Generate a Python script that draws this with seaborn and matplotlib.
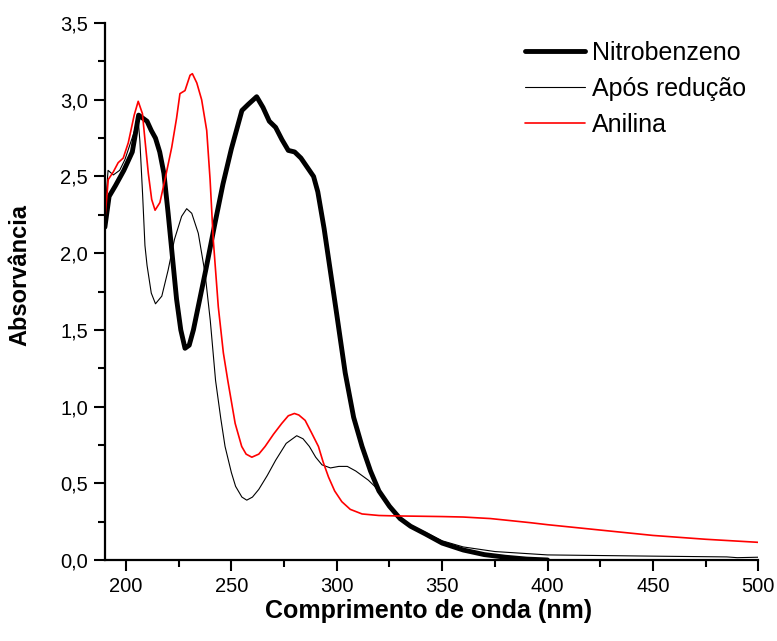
import numpy as np
import pandas as pd
import matplotlib
matplotlib.use("Agg")
import matplotlib.pyplot as plt
import seaborn as sns
from matplotlib.ticker import MultipleLocator, FuncFormatter

# ---- data ----
nitro_x = [190, 192, 195, 199, 203, 206, 208, 210, 212, 214, 216, 218, 220, 222, 224, 226, 228, 230, 232,
           235, 238, 242, 246, 250, 255, 258, 262, 265, 268, 271, 274, 277, 280, 283, 286, 289, 291, 294,
           297, 300, 304, 308, 312, 316, 320, 325, 330, 335, 342, 350, 360, 370, 380, 390, 400]
nitro_y = [2.17, 2.37, 2.44, 2.54, 2.66, 2.90, 2.88, 2.86, 2.80, 2.75, 2.66, 2.52, 2.26, 1.98, 1.70, 1.50,
           1.38, 1.40, 1.50, 1.70, 1.90, 2.18, 2.45, 2.68, 2.93, 2.97, 3.02, 2.95, 2.86, 2.82, 2.74, 2.67,
           2.66, 2.62, 2.56, 2.50, 2.40, 2.16, 1.88, 1.60, 1.22, 0.93, 0.74, 0.58, 0.45, 0.35, 0.27, 0.22,
           0.17, 0.11, 0.065, 0.035, 0.018, 0.006, 0.0]

apos_x = [190, 191.5, 194, 197, 199.5, 203.4, 205.8, 206.6, 207.9, 209, 210, 212, 214, 217, 220, 223, 226.4,
          228.8, 231.2, 234.3, 237.5, 240, 242.5, 245, 247, 250, 252, 255, 257.3, 260, 263, 267, 271, 276,
          281, 284, 287, 290, 293, 297, 301, 305, 309, 312, 315, 318, 321, 325, 330, 335, 342, 350, 360,
          375, 400, 450, 485, 490, 500]
apos_y = [2.26, 2.54, 2.51, 2.54, 2.61, 2.77, 2.87, 2.73, 2.38, 2.05, 1.92, 1.74, 1.67, 1.72, 1.89, 2.09,
          2.24, 2.29, 2.26, 2.13, 1.87, 1.56, 1.17, 0.92, 0.74, 0.57, 0.48, 0.41, 0.39, 0.41, 0.46, 0.55,
          0.65, 0.76, 0.81, 0.79, 0.74, 0.67, 0.62, 0.60, 0.61, 0.61, 0.58, 0.55, 0.52, 0.48, 0.42, 0.34,
          0.275, 0.225, 0.18, 0.125, 0.085, 0.055, 0.033, 0.025, 0.02, 0.015, 0.018]

anil_x = [190, 191.6, 194, 196.3, 198.7, 201.1, 203.9, 205.8, 207.8, 209, 210.6, 212.2, 213.8, 216.1,
          218.5, 221.7, 224, 225.6, 228, 230.4, 231.5, 233.6, 235.9, 238.3, 239.9, 241.4, 243.8, 246.2,
          248.3, 251.8, 254.9, 257, 259.7, 263, 266, 270, 273.9, 277, 279.9, 282, 285, 288, 291.3, 293.5,
          296.1, 299, 302.4, 306.4, 312, 320, 328.6, 340, 350, 360, 372.9, 380, 391.9, 400, 425, 450,
          475, 500]
anil_y = [2.22, 2.48, 2.53, 2.59, 2.62, 2.72, 2.90, 2.99, 2.91, 2.74, 2.52, 2.35, 2.28, 2.33, 2.48, 2.69,
          2.88, 3.04, 3.06, 3.16, 3.17, 3.11, 3.00, 2.80, 2.48, 2.09, 1.65, 1.35, 1.17, 0.89, 0.74, 0.69,
          0.67, 0.69, 0.74, 0.82, 0.89, 0.94, 0.955, 0.945, 0.91, 0.83, 0.74, 0.64, 0.54, 0.45, 0.38,
          0.33, 0.30, 0.29, 0.287, 0.285, 0.283, 0.28, 0.27, 0.26, 0.243, 0.23, 0.195, 0.16, 0.135, 0.115]

labels = ["Nitrobenzeno", "Após redução", "Anilina"]
x_label = "Comprimento de onda (nm)"
y_label = "Absorvância"

sns.set_theme(style="ticks")
plt.rcParams["font.family"] = ["Liberation Sans", "DejaVu Sans"]
plt.rcParams["text.color"] = "black"
plt.rcParams["axes.labelcolor"] = "black"
plt.rcParams["xtick.color"] = "black"
plt.rcParams["ytick.color"] = "black"

fig = plt.figure(figsize=(7.77, 6.41), dpi=100)
ax = fig.add_axes([0.135, 0.1264, 0.841, 0.8376])

series = [
    (nitro_x, nitro_y, labels[0], "black", 3.5),
    (apos_x, apos_y, labels[1], "black", 0.8),
    (anil_x, anil_y, labels[2], "#ff0000", 1.2),
]
for xs, ys, lab, col, lw in series:
    df = pd.DataFrame({"x": xs, "y": ys})
    sns.lineplot(data=df, x="x", y="y", ax=ax, color=col, linewidth=lw, label=lab,
                 sort=False, estimator=None)

ax.set_xlim(190, 500)
ax.set_ylim(0, 3.5)
ax.xaxis.set_major_locator(MultipleLocator(50))
ax.xaxis.set_minor_locator(MultipleLocator(25))
ax.yaxis.set_major_locator(MultipleLocator(0.5))
ax.yaxis.set_minor_locator(MultipleLocator(0.25))
ax.yaxis.set_major_formatter(FuncFormatter(lambda v, p: f"{v:.1f}".replace(".", ",")))
ax.xaxis.set_major_formatter(FuncFormatter(lambda v, p: f"{v:.0f}"))

for s in ["top", "right"]:
    ax.spines[s].set_visible(False)
for s in ["left", "bottom"]:
    ax.spines[s].set_linewidth(1.6)
    ax.spines[s].set_color("black")

ax.tick_params(which="major", direction="out", length=8, width=1.5, labelsize=14.5,
               colors="black", pad=4)
ax.tick_params(which="minor", direction="out", length=5, width=1.5, colors="black")

ax.set_xlabel(x_label, fontsize=18, fontweight="bold", color="black")
ax.set_ylabel(y_label, fontsize=17, fontweight="bold", color="black")
ax.xaxis.set_label_coords(0.496, -0.072)
ax.yaxis.set_label_coords(-0.112, 0.53)

leg = ax.legend(loc="upper left", bbox_to_anchor=(525 / 777, 1 - 41 / 641),
                bbox_transform=fig.transFigure, frameon=False, fontsize=18,
                handlelength=2.4, handletextpad=0.28, labelspacing=0.47,
                borderpad=0, borderaxespad=0)
for t in leg.get_texts():
    t.set_color("black")

fig.savefig("out.png", dpi=100, facecolor="white")
